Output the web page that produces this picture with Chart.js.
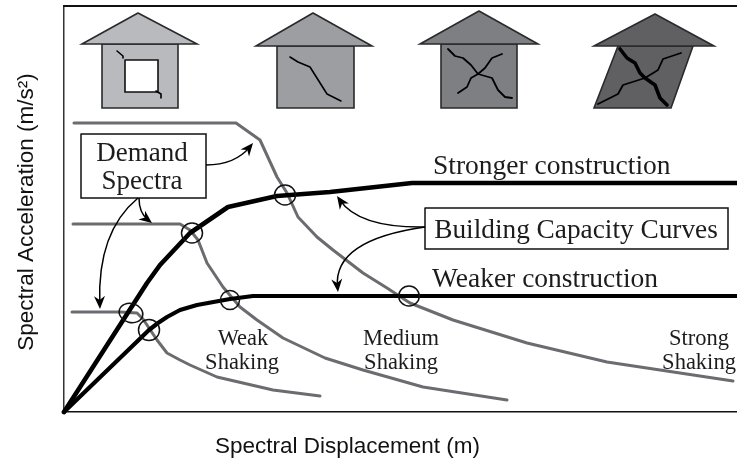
<!DOCTYPE html>
<html>
<head>
<meta charset="utf-8">
<style>
  html,body{margin:0;padding:0;background:#fff;}
  #wrap{width:737px;height:461px;}
</style>
<script src="https://cdn.jsdelivr.net/npm/chart.js@4"></script>
</head>
<body>
<div id="wrap"><canvas id="grafico" width="737" height="461"></canvas></div>
<script>
// axis ranges (arbitrary chart units, the original has no tick values)
const xMax = 67.3;
const yMax = 40.6;

// demand spectra
const strongDemand = [[1.0,28.9],[17.2,28.9],[19.6,27.2],[21.3,23.5],[22.3,21.9],[23.4,19.5],[25.3,17.5],[26.9,16.2],[29.9,13.9],[32.3,12.4],[34.6,10.9],[38.9,9.2],[46.3,6.9],[54.3,5.0],[66.9,3.1]];
const mediumDemand = [[0.9,18.8],[11.6,18.8],[12.6,18.2],[13.4,17.2],[14.3,14.9],[15.9,12.5],[17.6,10.5],[19.3,9.2],[21.9,7.4],[26.1,5.4],[29.9,4.2],[35.9,2.5],[44.3,1.2]];
const weakDemand = [[0.8,10.0],[5.6,10.0],[7.3,9.9],[7.9,9.3],[9.3,7.2],[10.3,5.9],[11.6,5.2],[12.6,4.7],[15.3,3.5],[20.9,2.2],[25.6,1.6]];

// capacity curves
const strongerCurve = [[0,0],[8.3,12.9],[9.6,14.7],[12.6,17.9],[16.4,20.5],[21.3,21.6],[26.6,22.0],[34.8,22.9],[67.3,22.9]];
const weakerCurve = [[0,0],[8.5,8.2],[9.4,8.9],[10.3,9.5],[11.6,10.2],[13.3,10.7],[16.6,11.3],[18.9,11.6],[67.3,11.6]];

// performance points (circled)
const ringPoints = [[22.1,21.7],[12.8,17.9],[16.6,11.2],[6.7,9.9],[8.5,8.2],[34.5,11.6]];

// houses
const roof1 = [[7.4,39.9],[1.8,36.8],[13.3,36.8],[7.4,39.9]];
const body1 = [[3.8,36.8],[11.4,36.8],[11.4,30.4],[3.8,30.4],[3.8,36.8]];
const window1 = [[6.1,35.2],[9.4,35.2],[9.4,32.0],[6.1,32.0],[6.1,35.2]];
const crack1a = [[5.3,36.1],[5.9,35.6],[5.9,35.4]];
const crack1b = [[9.2,32.1],[9.7,31.8],[9.7,31.4]];

const roof2 = [[24.9,39.9],[19.2,36.6],[30.8,36.6],[24.9,39.9]];
const body2 = [[21.3,36.6],[29.0,36.6],[29.0,30.4],[21.3,30.4],[21.3,36.6]];
const crack2 = [[22.6,35.5],[23.4,35.0],[24.6,34.5],[26.3,31.8],[27.7,31.1]];

const roof3 = [[41.5,40.1],[35.6,36.8],[47.4,36.8],[41.5,40.1]];
const body3 = [[37.7,36.8],[45.3,36.8],[45.3,30.4],[37.7,30.4],[37.7,36.8]];
const crack3a = [[38.4,36.3],[39.1,35.6],[39.9,35.4],[40.7,34.7],[41.4,33.8],[42.1,34.4],[42.8,35.4],[43.8,35.8]];
const crack3b = [[39.4,31.9],[40.3,32.5],[40.7,33.4],[41.4,33.8],[42.8,33.4],[43.4,32.2],[44.1,31.5],[44.8,31.4]];

const roof4 = [[59.1,39.8],[53.0,36.6],[65.0,36.6],[59.1,39.8]];
const body4 = [[55.4,36.6],[62.9,36.6],[60.7,30.4],[53.0,30.4],[55.4,36.6]];
const crack4a = [[55.6,36.3],[56.3,35.4],[57.1,34.9],[57.6,33.9],[58.1,33.4],[59.1,32.7],[59.6,31.4],[60.3,30.7]];
const crack4b = [[53.4,30.8],[55.4,31.8],[55.9,32.7],[58.1,33.4],[59.4,34.2],[59.9,35.3],[61.7,35.9]];

// frame line along the top
const topLine = [[0,yMax],[xMax,yMax]];

// label boxes
const demandBox = [[1.7,27.8],[14.2,27.8],[14.2,21.4],[1.7,21.4],[1.7,27.8]];
const capacityBox = [[36.1,20.4],[66.4,20.4],[66.4,16.3],[36.1,16.3],[36.1,20.4]];

// arrows: start, control, end
const arrows = [
  [[14.2,24.7],[17.1,24.7],[18.9,26.9]],
  [[7.5,21.4],[7.5,19.9],[8.8,18.9]],
  [[7.4,21.4],[3.3,18.0],[3.6,10.3]],
  [[36.1,18.5],[29.5,18.4],[27.3,21.6]],
  [[36.1,18.5],[26.9,17.2],[27.4,12.0]]
];

const xTitle = "Spectral Displacement (m)";
const yTitle = "Spectral Acceleration (m/s\u00B2)";

const pts = list => list.map(p=>({x:p[0],y:p[1]}));

function line(list,color,width){
  return {data:pts(list),showLine:true,borderColor:color,borderWidth:width,pointRadius:0,
    fill:false,clip:false,tension:0,borderJoinStyle:'round',borderCapStyle:'round'};
}
function shape(list,fillColor,edge,width){
  return Object.assign(line(list,edge,width),{fill:'shape',backgroundColor:fillColor,borderJoinStyle:'miter'});
}

const edge = '#2a2a2c';
const demandColor = '#6b6c6f';
const crack = '#000';

// paint order, bottom first
const layers = [
  line(topLine,'#111',2),
  shape(body1,'#b9babd',edge,1.6), shape(roof1,'#b9babd',edge,1.6), shape(window1,'#fff','#111',1.6),
  line(crack1a,crack,1.6), line(crack1b,crack,1.6),
  shape(body2,'#9d9ea1',edge,1.6), shape(roof2,'#9d9ea1',edge,1.6), line(crack2,crack,1.6),
  shape(body3,'#7e7f83',edge,1.6), shape(roof3,'#7e7f83',edge,1.6), line(crack3a,crack,1.8), line(crack3b,crack,1.8),
  shape(body4,'#606063',edge,1.6), shape(roof4,'#606063',edge,1.6), line(crack4b,crack,1.8), line(crack4a,crack,3.6),
  line(strongDemand,demandColor,3), line(mediumDemand,demandColor,3), line(weakDemand,demandColor,3),
  line(weakerCurve,'#000',4.2), line(strongerCurve,'#000',4.6),
  shape(demandBox,'rgba(255,255,255,1)','#111',1.5), shape(capacityBox,'rgba(255,255,255,1)','#111',1.5)
];

// pixel sizes of the rings: rx, ry, tilt
const ringSizes = [[10.5,10,0],[10.5,10,0],[9.5,9.5,0],[12,9.5,0.25],[10.5,10.5,0],[10.3,10,0]];

const serif = '"Liberation Serif"';
const labels = [
  ["Demand",142,154,27,'center'],["Spectra",142,182,27,'center'],
  ["Building Capacity Curves",576,231,27.3,'center'],
  ["Stronger construction",433,167,27.5,'left'],["Weaker construction",432,280,27.5,'left'],
  ["Weak",243,339,22.5,'center'],["Shaking",242,363,22.5,'center'],
  ["Medium",401,339,22.5,'center'],["Shaking",401,363,22.5,'center'],
  ["Strong",699,339,22.5,'center'],["Shaking",699,363,22.5,'center']
];

const drawExtras = {
  id:'drawExtras',
  afterDatasetsDraw(c){
    const g = c.ctx, sx = c.scales.x, sy = c.scales.y;
    const px = v=>sx.getPixelForValue(v), py = v=>sy.getPixelForValue(v);
    g.save();
    // rings
    g.strokeStyle='#111'; g.lineWidth=1.5;
    ringPoints.forEach((p,i)=>{
      const r = ringSizes[i];
      g.beginPath();
      g.ellipse(px(p[0]),py(p[1]),r[0],r[1],r[2],0,Math.PI*2);
      g.stroke();
    });
    // arrows
    arrows.forEach(a=>{
      const x0=px(a[0][0]),y0=py(a[0][1]),cx=px(a[1][0]),cy=py(a[1][1]),x1=px(a[2][0]),y1=py(a[2][1]);
      const ang=Math.atan2(y1-cy,x1-cx);
      g.strokeStyle='#000'; g.lineWidth=1.5;
      g.beginPath(); g.moveTo(x0,y0); g.quadraticCurveTo(cx,cy,x1-5*Math.cos(ang),y1-5*Math.sin(ang)); g.stroke();
      g.save(); g.translate(x1,y1); g.rotate(ang);
      g.fillStyle='#000';
      g.beginPath(); g.moveTo(0,0); g.lineTo(-13,-5.5); g.lineTo(-9,0); g.lineTo(-13,5.5); g.closePath(); g.fill();
      g.restore();
    });
    // text
    g.fillStyle='#1c1c1c'; g.textBaseline='middle';
    labels.forEach(l=>{
      g.font=l[3]+'px '+serif;
      g.textAlign=l[4];
      g.fillText(l[0],l[1],l[2]);
    });
    // axis titles sit off-centre in the original, so they are placed here
    g.textBaseline='alphabetic'; g.textAlign='center'; g.fillStyle='#111';
    g.font='22.5px "Liberation Sans"';
    g.fillText(xTitle,347.5,453);
    g.translate(32.5,212); g.rotate(-Math.PI/2);
    g.fillText(yTitle,0,0);
    g.restore();
  }
};

new Chart(document.getElementById('grafico'),{
  type:'scatter',
  data:{datasets:layers.slice().reverse()},
  plugins:[drawExtras],
  options:{
    responsive:false,
    animation:false,
    layout:{padding:{top:6,left:0,right:0,bottom:0}},
    plugins:{legend:{display:false},tooltip:{enabled:false}},
    scales:{
      x:{
        type:'linear',min:0,max:xMax,
        grid:{display:false,drawTicks:false},
        ticks:{display:false},
        border:{display:true,color:'#111',width:1.5},
        afterFit(s){s.height=49;}
      },
      y:{
        type:'linear',min:0,max:yMax,
        grid:{display:false,drawTicks:false},
        ticks:{display:false},
        border:{display:true,color:'#333',width:1.5},
        afterFit(s){s.width=64;}
      }
    }
  }
});
</script>
</body>
</html>
